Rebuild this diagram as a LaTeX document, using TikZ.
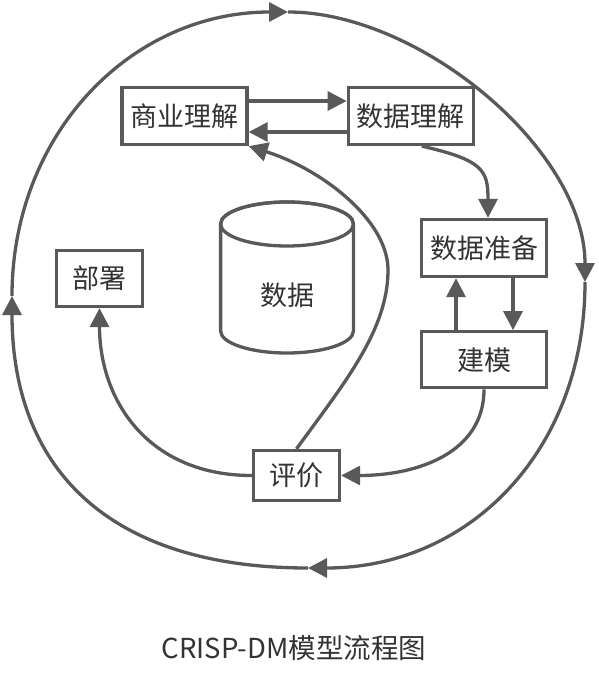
\documentclass[tikz,border=0pt]{standalone}
\usepackage{fontspec}
\setmainfont{Noto Sans CJK SC}
\usepackage{tikz}
\usetikzlibrary{arrows.meta,calc,positioning}
\definecolor{linegray}{RGB}{89,89,89}
\definecolor{textgray}{RGB}{51,51,51}

\begin{document}
\begin{tikzpicture}[auto,x=1pt,y=-1pt,>={Triangle[length=19pt,width=19pt]}]
	\tikzstyle{block} = [draw=linegray, line width=3.3pt, rectangle, fill=white, text=textgray, font=\fontsize{27}{31}\selectfont, minimum height=57pt, minimum width=125pt, inner sep=0pt]
	\tikzstyle{short} = [block, minimum width=86pt, minimum height=56pt]
	\tikzstyle{link} = [draw=linegray, line width=3.3pt]
	\useasboundingbox (0,0) rectangle (598,687);

	\node [block] (biz) at (184.5,116) {商业理解};
	\node [block, right = 98pt of biz] (dataund) {数据理解};
	\node [block] (prep) at (484,248) {数据准备};
	\node [block, minimum height=56pt, below = 52pt of prep] (model) {建模};
	\node [short] (deploy) at (99.5,278.5) {部署};
	\node [short, minimum height=50pt] (eval) at (296.5,475.5) {评价};

	\draw [link, fill=white] (220.6,224) -- (220.6,331) arc[start angle=180, end angle=360, x radius=66.4pt, y radius=22pt] -- (353.4,224) arc[start angle=0, end angle=180, x radius=66.4pt, y radius=22pt] -- cycle;
	\draw [link] (287,224) ellipse [x radius=66.4pt, y radius=22pt];
	\node [text=textgray, font=\fontsize{27}{31}\selectfont] (data) at (287,295) {数据};
	\node [text=textgray, font=\fontsize{27.5}{32}\selectfont] (title) at (294,648) {CRISP-DM模型流程图};

	\coordinate (top) at (288,12);
	\coordinate (right) at (585,282);
	\coordinate (bottom) at (308,568);
	\coordinate (left) at (12,296);
	\coordinate (bend) at (388,270);

	\draw [link,->] ([yshift=15pt]biz.east) -- ([yshift=15pt]dataund.west);
	\draw [link,->] ([yshift=-16pt]dataund.west) -- ([yshift=-16pt]biz.east);
	\draw [link,->] ([xshift=11pt]dataund.south) .. controls +(62,14) and +(0,-47) .. ([xshift=4pt]prep.north);
	\draw [link,->] ([xshift=29pt]prep.south) -- ([xshift=29pt]model.north);
	\draw [link,->] ([xshift=-28pt]model.north) -- ([xshift=-28pt]prep.south);
	\draw [link,->] (model.south) .. controls +(0,63) and +(77,0) .. (eval.east);
	\draw [link,->] (eval.west) .. controls +(-103,0) and +(0,93) .. (deploy.south);
	\draw [link,->] (eval.north) .. controls +(48,-66) and +(0,60) .. (bend) .. controls +(0,-50) and +(73,23) .. (biz.south east);

	\draw [link,->] (left) .. controls (12,135) and (130,12) .. (top);
	\draw [link,->] (top) .. controls (420,12) and (585,150) .. (right);
	\draw [link,->] (right) .. controls (585,450) and (470,568) .. (bottom);
	\draw [link,->] (bottom) .. controls (110,568) and (12,470) .. (left);
\end{tikzpicture}
\end{document}
